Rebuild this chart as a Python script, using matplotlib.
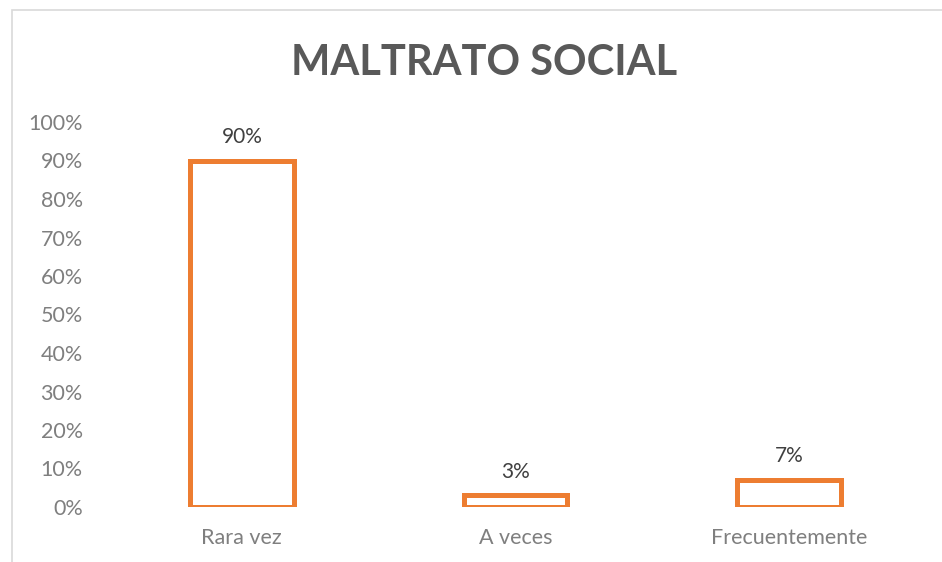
import matplotlib
matplotlib.use("Agg")
import matplotlib.pyplot as plt
from matplotlib.patches import Rectangle
from matplotlib.ticker import FuncFormatter

categories = ["Rara vez", "A veces", "Frecuentemente"]
values = [0.90, 0.03, 0.07]
labels = ["90%", "3%", "7%"]
yticks = [0, 0.1, 0.2, 0.3, 0.4, 0.5, 0.6, 0.7, 0.8, 0.9, 1.0]
title = "MALTRATO SOCIAL"

plt.rcParams['font.family'] = ['Lato', 'DejaVu Sans']

W, H = 942, 562
fig = plt.figure(figsize=(W / 100, H / 100), dpi=100)
fig.patch.set_facecolor("white")

# chart border (cropped on right/bottom)
fig.add_artist(Rectangle((12 / W, -0.1), 1.2, (H - 10) / H + 0.1, transform=fig.transFigure,
                         fill=False, edgecolor="#D9D9D9", linewidth=1.2))

left, right = 105 / W, 926 / W
bottom, top = (H - 507) / H, (H - 122) / H
ax = fig.add_axes([left, bottom, right - left, top - bottom])
ax.set_facecolor("none")

x = list(range(len(categories)))
bars = ax.bar(x, values, width=0.38, facecolor="white", edgecolor="#ED7D31", linewidth=3.6)
for xi, v, lab in zip(x, values, labels):
    ax.annotate(lab, (xi, v), xytext=(0, 10), textcoords="offset points",
                ha="center", va="bottom", fontsize=15, color="#404040")

ax.set_xlim(-0.5, 2.5)
ax.set_ylim(0, 1.0)
ax.set_yticks(yticks)
ax.yaxis.set_major_formatter(FuncFormatter(lambda v, p: f"{v*100:.0f}%"))
ax.set_xticks(x)
ax.set_xticklabels(categories)
ax.tick_params(axis="both", length=0, labelsize=15.5, colors="#7F7F7F")
ax.tick_params(axis="y", pad=16)
ax.tick_params(axis="x", pad=15)
for s in ax.spines.values():
    s.set_visible(False)

fig.text(484 / W, (H - 63) / H, title, ha="center", va="center",
         fontsize=30, fontweight="bold", color="#595959")

fig.savefig("out.png", dpi=100)
